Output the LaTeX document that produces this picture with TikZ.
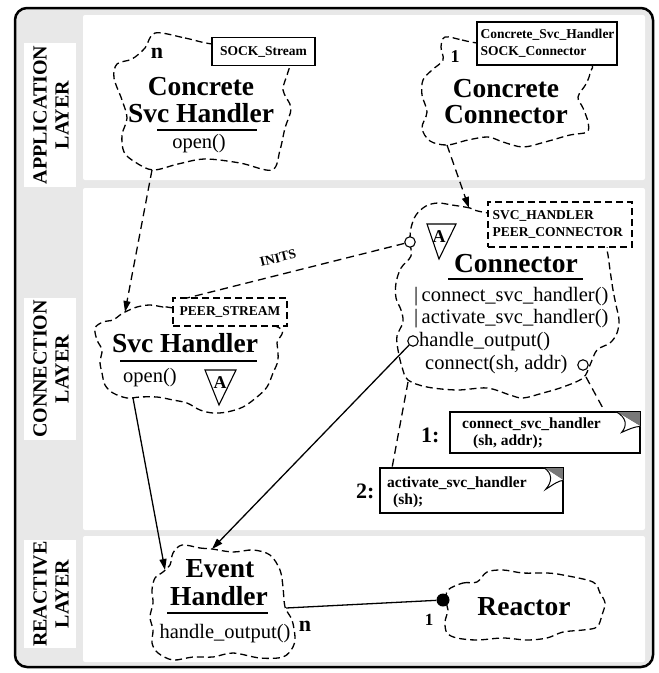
\documentclass[tikz,border=0pt]{standalone}
\usepackage{fontspec}
\setmainfont{Liberation Serif}
\usetikzlibrary{arrows.meta}
\definecolor{bggray}{RGB}{232,232,232}
\definecolor{foldgray}{RGB}{120,120,120}
\tikzset{
  cloudline/.style={line width=1.3pt, dash pattern=on 7pt off 4pt},
  dashconn/.style={line width=1.3pt, dash pattern=on 8pt off 5pt},
  solidconn/.style={line width=1.3pt},
  tipped/.style={-{Triangle[length=11pt,width=7pt]}},
  title/.style={font=\fontsize{27.5}{27.5}\selectfont\bfseries, inner sep=0pt, anchor=base},
  meth/.style={font=\fontsize{20.5}{20.5}\selectfont, inner sep=0pt, anchor=base west},
  methc/.style={font=\fontsize{20.5}{20.5}\selectfont, inner sep=0pt, anchor=base},
  mult/.style={font=\fontsize{22}{22}\selectfont\bfseries, inner sep=0pt, anchor=base},
  tagsolid/.style={draw, line width=1.2pt, fill=white, font=\fontsize{13.5}{16.5}\selectfont\bfseries, inner sep=0pt, align=left},
  tagdash/.style={tagsolid, dash pattern=on 7pt off 4pt, line width=1.4pt},
  lanelabel/.style={rotate=90, align=center, font=\fontsize{20}{22}\selectfont\bfseries, inner sep=0pt},
  uline/.style={line width=2pt},
  port/.style={circle, draw, fill=white, line width=1.1pt, minimum size=10.5pt, inner sep=0pt},
  abstri/.style={line width=1.1pt, fill=white},
  notebox/.style={draw, line width=1.2pt, fill=white, inner sep=0pt},
  notetext/.style={font=\fontsize{15.5}{15.5}\selectfont\bfseries, inner sep=0pt, anchor=base west},
  notenum/.style={font=\fontsize{22}{22}\selectfont\bfseries, inner sep=0pt, anchor=base west},
  smalltag/.style={font=\fontsize{13.5}{13.5}\selectfont\bfseries, inner sep=0pt},
}
\begin{document}
\begin{tikzpicture}[x=1pt,y=-1pt]
\useasboundingbox (0,0) rectangle (659,673);
% frame and lanes
\draw[line width=2.5pt, fill=bggray, rounded corners=12pt] (15,8) rectangle (653,667);
\fill[white, rounded corners=2pt] (83,15) rectangle (645,180);
\fill[white, rounded corners=2pt] (83,188) rectangle (645,530);
\fill[white, rounded corners=2pt] (83,536) rectangle (645,662);
\fill[white] (24,43) rectangle (76,187);
\fill[white] (24,298) rectangle (76,440);
\fill[white] (24,540) rectangle (76,648);
\node[lanelabel] (lapp) at (51,115) {APPLICATION\\LAYER};
\node[lanelabel] (lconn) at (51,369) {CONNECTION\\LAYER};
\node[lanelabel] (lreact) at (51,594) {REACTIVE\\LAYER};

% ---------- clouds ----------
% Concrete Svc Handler
\draw[cloudline] plot[smooth cycle, tension=0.55] coordinates {(155,33) (185,38) (212,44) (255,47) (290,55) (288,72) (283,90) (291,108) (285,128) (280,150) (272,170) (240,163) (205,159) (178,164) (153,170) (135,162) (124,152) (122,135) (127,118) (122,100) (114,78) (117,64) (132,59) (145,48)};
% Concrete Connector
\draw[cloudline] plot[smooth cycle, tension=0.55] coordinates {(445,37) (462,40) (477,43) (530,50) (588,62) (590,73) (586,84) (578,97) (583,108) (588,122) (587,132) (570,135) (545,142) (523,147) (503,142) (488,137) (468,140) (447,145) (430,141) (422,128) (427,112) (422,95) (423,80) (432,70) (443,60) (441,47)};
% Connector
\draw[cloudline] plot[smooth cycle, tension=0.55] coordinates {(488,213) (470,208) (452,205) (438,203) (426,206) (416,215) (411,228) (410,242) (411,256) (401,268) (396,283) (396,298) (401,310) (403,322) (397,336) (398,350) (402,367) (408,380) (427,387) (457,390) (487,388) (510,395) (523,398) (543,393) (563,387) (583,378) (590,365) (597,350) (610,343) (617,333) (619,320) (616,305) (613,290) (610,270) (607,250) (600,230)};
% Svc Handler
\draw[cloudline] plot[smooth cycle, tension=0.55] coordinates {(173,308) (163,307) (150,305) (137,307) (125,312) (120,315) (113,320) (103,322) (95,328) (97,340) (102,350) (100,362) (102,373) (105,385) (113,393) (127,398) (140,397) (157,397) (173,400) (187,403) (200,410) (213,413) (227,412) (243,407) (257,397) (267,387) (273,373) (278,360) (277,343) (275,326)};
% Event Handler
\draw[cloudline] plot[smooth cycle, tension=0.55] coordinates {(182,545) (200,548) (212,549) (233,552) (253,550) (270,555) (280,570) (283,587) (285,607) (292,620) (295,637) (293,647) (283,657) (260,658) (233,653) (213,657) (193,657) (173,660) (158,653) (152,643) (153,630) (150,617) (153,603) (152,590) (155,578) (163,572) (170,565) (173,553)};
% Reactor
\draw[cloudline] plot[smooth cycle, tension=0.55] coordinates {(448,590) (463,583) (477,582) (487,572) (503,570) (523,573) (547,573) (563,575) (593,582) (600,593) (605,603) (602,615) (597,627) (583,630) (563,632) (547,638) (527,640) (503,638) (477,640) (457,638) (447,633) (445,622) (448,610) (446,602)};

% ---------- tag boxes ----------
\node[tagsolid, minimum width=103pt, minimum height=28pt, align=center] (sockstream) at (263.5,51.5) {SOCK\_Stream};
\node[tagsolid, minimum width=140pt, minimum height=43pt, text width=133pt] (ccbox) at (547,43.5) {Concrete\_Svc\_Handler\\SOCK\_Connector};
\node[tagdash, minimum width=144pt, minimum height=45pt, text width=135pt] (connbox) at (560,224.5) {SVC\_HANDLER\\PEER\_CONNECTOR};
\node[tagdash, minimum width=114pt, minimum height=28pt, align=center] (peerbox) at (230,312) {PEER\_STREAM};

% ---------- Concrete Svc Handler ----------
\node[mult] (cshn) at (157,58) {n};
\node[title] (csh1) at (201,95) {Concrete};
\node[title] (csh2) at (201,122) {Svc Handler};
\draw[uline] (157,130) -- (257,130);
\node[methc] (csho) at (199,148) {open()};

% ---------- Concrete Connector ----------
\node[mult, font=\fontsize{18}{18}\selectfont\bfseries] (ccone) at (455,62) {1};
\node[title] (cc1) at (506,97) {Concrete};
\node[title] (cc2) at (506,123) {Connector};

% ---------- Connector ----------
\draw[abstri] (427,224) -- (456,224) -- (439,259) -- cycle;
\node[smalltag, font=\fontsize{18}{18}\selectfont\bfseries] (conA) at (439,237) {A};
\node[title] (conT) at (516,272) {Connector};
\draw[uline] (448,279) -- (583,279);
\node[meth] (m1) at (414,301) {|\,connect\_svc\_handler()};
\node[meth] (m2) at (414,323.5) {|\,activate\_svc\_handler()};
\node[meth] (m3) at (419,346) {handle\_output()};
\node[meth] (m4) at (425,369.5) {connect(sh, addr)};
\node[port] (cinit) at (410,242) {};
\node[port] (chout) at (413,341) {};
\node[port] (cconn) at (583,365) {};

% ---------- Svc Handler ----------
\node[title] (sh1) at (185,352) {Svc Handler};
\draw[uline] (120,361) -- (257,361);
\node[meth] (sho) at (123,382) {open()};
\draw[abstri] (205,370) -- (236,370) -- (219,405) -- cycle;
\node[smalltag, font=\fontsize{18}{18}\selectfont\bfseries] (shA) at (220,383) {A};

% ---------- Event Handler ----------
\node[title] (eh1) at (220,577) {Event};
\node[title] (eh2) at (219,605) {Handler};
\draw[uline] (167,613) -- (268,613);
\node[methc] (eho) at (225,638) {handle\_output()};
\node[mult] (ehn) at (305,631) {n};

% ---------- Reactor ----------
\node[title] (re) at (524,615) {Reactor};
\node[mult, font=\fontsize{17}{17}\selectfont\bfseries] (reone) at (429,625) {1};
\node[circle, fill=black, minimum size=13pt, inner sep=0pt] (rdot) at (443,600) {};

% ---------- notes ----------
\node[notebox, minimum width=190pt, minimum height=41pt] (note1) at (545,432.5) {};
\fill[foldgray] ([xshift=-25pt]note1.north east) -- (note1.north east) -- ([yshift=-15pt]note1.north east) -- cycle;
\draw[line width=1.2pt] ([xshift=-25pt]note1.north east) -- (note1.north east) -- ([yshift=-15pt]note1.north east);
\filldraw[fill=white, line width=1pt] ([xshift=-25pt]note1.north east) .. controls ([xshift=-14pt,yshift=-6pt]note1.north east) and ([xshift=-13pt,yshift=-14pt]note1.north east) .. ([xshift=-19pt,yshift=-21pt]note1.north east) .. controls ([xshift=-12pt,yshift=-18pt]note1.north east) and ([xshift=-6pt,yshift=-15pt]note1.north east) .. ([yshift=-15pt]note1.north east);
\node[notetext] (n1a) at (462,428) {connect\_svc\_handler};
\node[notetext] (n1b) at (473,445) {(sh, addr);};
\node[notenum] (n1num) at (421,442) {1:};

\node[notebox, minimum width=183pt, minimum height=45pt] (note2) at (471.5,490.5) {};
\fill[foldgray] ([xshift=-20pt]note2.north east) -- (note2.north east) -- ([yshift=-13pt]note2.north east) -- cycle;
\draw[line width=1.2pt] ([xshift=-20pt]note2.north east) -- (note2.north east) -- ([yshift=-13pt]note2.north east);
\filldraw[fill=white, line width=1pt] ([xshift=-20pt]note2.north east) .. controls ([xshift=-11pt,yshift=-6pt]note2.north east) and ([xshift=-11pt,yshift=-14pt]note2.north east) .. ([xshift=-18pt,yshift=-22pt]note2.north east) .. controls ([xshift=-10pt,yshift=-17pt]note2.north east) and ([xshift=-5pt,yshift=-13pt]note2.north east) .. ([yshift=-13pt]note2.north east);
\node[notetext] (n2a) at (387,487) {activate\_svc\_handler};
\node[notetext] (n2b) at (393,504) {(sh);};
\node[notenum] (n2num) at (356,498) {2:};

% ---------- connectors ----------
\coordinate (cshbot) at (152,170);
\coordinate (shtop) at (125,312);
\draw[dashconn, tipped] (cshbot) -- (shtop);
\coordinate (ccbot) at (447,145);
\coordinate (contop) at (469,208);
\draw[dashconn, tipped] (ccbot) -- (contop);
\coordinate (peertop) at (187,298);
\draw[dashconn] (cinit) -- (peertop);
\node[smalltag, rotate=14] (inits) at (278,258) {INITS};
\coordinate (shbot) at (133,398);
\coordinate (ehtopl) at (165,570);
\draw[solidconn, tipped] (shbot) -- (ehtopl);
\coordinate (ehtopr) at (212,549);
\draw[solidconn, tipped] (chout) -- (ehtopr);
\coordinate (ehright) at (286,608);
\draw[solidconn] (ehright) -- (rdot);
\coordinate (conbr) at (586,377);
\coordinate (n1top) at (605,412);
\draw[dashconn] (conbr) -- (n1top);
\coordinate (conbl) at (408,382);
\coordinate (n2top) at (392,468);
\draw[dashconn] (conbl) -- (n2top);
\end{tikzpicture}
\end{document}
